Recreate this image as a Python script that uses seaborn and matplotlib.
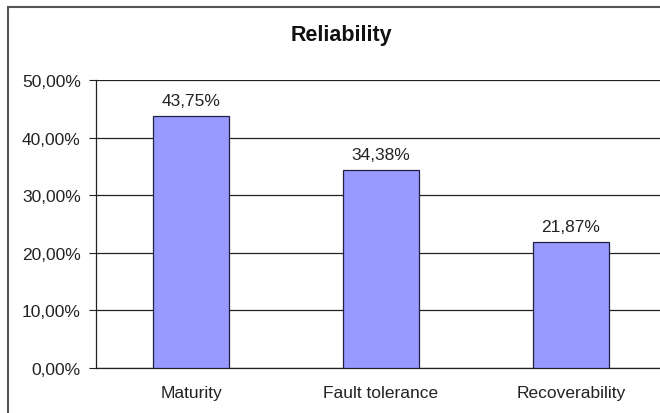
import matplotlib
matplotlib.use("Agg")
import matplotlib.pyplot as plt
import seaborn as sns
import pandas as pd
from matplotlib.patches import Rectangle

categories = ["Maturity", "Fault tolerance", "Recoverability"]
values = [43.75, 34.38, 21.87]
value_labels = ["43,75%", "34,38%", "21,87%"]
yticks = [0, 10, 20, 30, 40, 50]
ytick_labels = ["0,00%", "10,00%", "20,00%", "30,00%", "40,00%", "50,00%"]
title = "Reliability"

sns.set_theme(style="white")
plt.rcParams['font.family'] = ['Liberation Sans', 'DejaVu Sans']

W, H = 660, 414
fig = plt.figure(figsize=(W / 100, H / 100), dpi=100)
fig.patch.set_facecolor("white")

# axes in pixel coords: left 96, right 666, top 81, bottom 369
left, right, top, bottom = 96, 666, 81, 369
ax = fig.add_axes([left / W, (H - bottom) / H, (right - left) / W, (bottom - top) / H])

df = pd.DataFrame({"cat": categories, "val": values})
sns.barplot(data=df, x="cat", y="val", color="#9999FF", width=0.405,
            edgecolor="#202040", linewidth=0.9, saturation=1, ax=ax, zorder=3)

ax.set_xlim(-0.5, 2.5)
ax.set_ylim(0, 50)
ax.set_yticks(yticks)
ax.set_yticklabels(ytick_labels, fontsize=12.5, color="#222222")
ax.yaxis.grid(True, color="#222222", linewidth=0.9, zorder=0)
ax.set_axisbelow(True)
ax.set_xlabel("")
ax.set_ylabel("")

ax.set_xticks([0, 1, 2])
ax.set_xticklabels(categories, fontsize=12.5, color="#222222")
ax.set_xticks([-0.5, 0.5, 1.5, 2.5], minor=True)
ax.tick_params(axis="x", which="major", length=0, pad=12)
ax.tick_params(axis="x", which="minor", length=4, width=0.8, color="#444444", direction="out")
ax.tick_params(axis="y", which="major", length=5, width=0.8, color="#222222", direction="out", left=True, pad=6)

for s in ["top", "right"]:
    ax.spines[s].set_visible(False)
for s in ["left", "bottom"]:
    ax.spines[s].set_color("#222222")
    ax.spines[s].set_linewidth(0.9)

for i, (v, lab) in enumerate(zip(values, value_labels)):
    ax.annotate(lab, (i, v), xytext=(0, 6), textcoords="offset points",
                ha="center", va="bottom", fontsize=12.5, color="#222222")

fig.text(341 / W, 1 - 35 / H, title, ha="center", va="center",
         fontsize=15.5, fontweight="bold", color="#111111")

# outer chart border (extends past right/bottom edges)
fig.patches.append(Rectangle((8 / W, -0.1), 1.2, 1 - 7.5 / H + 0.1, transform=fig.transFigure,
                             fill=False, edgecolor="#555555", linewidth=1.5, zorder=0))

fig.savefig("out.png", dpi=100)
